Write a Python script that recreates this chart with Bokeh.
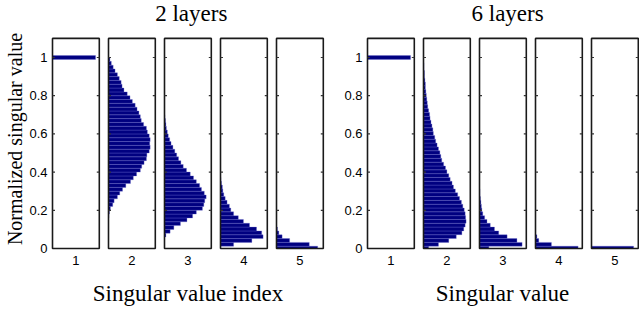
from bokeh.plotting import figure
from bokeh.layouts import row
from bokeh.models import FixedTicker, Range1d, ColumnDataSource
from bokeh.embed import file_html
from bokeh.resources import INLINE

# ---------------- data ----------------
panel_names = ["1", "2", "3", "4", "5"]
group_titles = ["2 layers", "6 layers"]
group_xlabels = ["Singular value index", "Singular value"]
y_label = "Normalized singular value"
y_tick_values = [0, 0.2, 0.4, 0.6, 0.8, 1.0]
y_tick_text = ["0", "0.2", "0.4", "0.6", "0.8", "1"]
bin_height = 0.02

# lower edge of the first histogram bin in each panel
two_layer_lo = [0.99, 0.16, 0.06, 0.012, -0.008]
# bar lengths (fraction of panel width), bottom bin first
two_layer_p1 = [0.92]
two_layer_p2 = [0.01, 0.02, 0.04, 0.09, 0.12, 0.19, 0.24, 0.30, 0.37, 0.47, 0.53, 0.60,
                0.68, 0.71, 0.76, 0.81, 0.82, 0.87, 0.89, 0.88, 0.89, 0.87, 0.83, 0.81,
                0.75, 0.70, 0.68, 0.65, 0.61, 0.57, 0.51, 0.46, 0.40, 0.33, 0.29, 0.27,
                0.23, 0.19, 0.14, 0.10, 0.06, 0.03]
two_layer_p3 = [0.03, 0.12, 0.20, 0.34, 0.48, 0.60, 0.68, 0.81, 0.84, 0.86, 0.89, 0.85,
                0.79, 0.75, 0.68, 0.62, 0.55, 0.47, 0.40, 0.35, 0.30, 0.26, 0.22, 0.18,
                0.14, 0.11, 0.08, 0.06, 0.04, 0.03, 0.02, 0.01]
two_layer_p4 = [0.28, 0.67, 0.91, 0.88, 0.77, 0.62, 0.49, 0.38, 0.28, 0.22, 0.19, 0.14,
                0.10, 0.07, 0.05, 0.04, 0.02, 0.01]
two_layer_p5 = [0.88, 0.70, 0.28, 0.12, 0.05, 0.02]

six_layer_lo = [0.99, -0.008, -0.008, -0.008, -0.008]
six_layer_p1 = [0.92]
six_layer_p2 = [0.11, 0.32, 0.54, 0.70, 0.82, 0.86, 0.89, 0.91, 0.90, 0.89, 0.87, 0.84,
                0.81, 0.77, 0.73, 0.68, 0.64, 0.61, 0.57, 0.54, 0.50, 0.47, 0.43, 0.39,
                0.37, 0.35, 0.32, 0.29, 0.26, 0.24, 0.21, 0.20, 0.18, 0.16, 0.14, 0.13,
                0.11, 0.09, 0.08, 0.07, 0.06, 0.05, 0.04, 0.04, 0.03, 0.02, 0.02, 0.01,
                0.01]
six_layer_p3 = [0.20, 0.91, 0.80, 0.59, 0.41, 0.32, 0.23, 0.16, 0.11, 0.07, 0.05, 0.04,
                0.03, 0.02, 0.01, 0.01]
six_layer_p4 = [0.91, 0.34, 0.07, 0.03]
six_layer_p5 = [0.90]

groups = [
    (two_layer_lo, [two_layer_p1, two_layer_p2, two_layer_p3, two_layer_p4, two_layer_p5]),
    (six_layer_lo, [six_layer_p1, six_layer_p2, six_layer_p3, six_layer_p4, six_layer_p5]),
]

# ---------------- layout constants ----------------
PANEL_PX = 46.8
PITCH = 56.0 / PANEL_PX          # panel pitch in panel-width units
Y_PX = 191.0                     # pixels per unit of normalized value
FRAME_H = 223                    # includes headroom above the panels
PAD_X = 2.0 / PANEL_PX
PAD_Y = 2.0 / Y_PX
BAR_FILL = "#000080"
BAR_EDGE = "#6a6ad2"
BORDER = "#1a1a1a"
SERIF = "Liberation Serif"
SANS = "Liberation Sans"


def make_group(gi, frame_w, border_left, border_right, title_offset, with_ylabel):
    lows, panels = groups[gi]
    p = figure(frame_width=frame_w, frame_height=FRAME_H,
               x_range=Range1d(-PAD_X, -PAD_X + frame_w / PANEL_PX),
               y_range=Range1d(-PAD_Y, -PAD_Y + FRAME_H / Y_PX),
               min_border_left=border_left, min_border_right=border_right,
               min_border_top=27, min_border_bottom=58,
               output_backend="svg", toolbar_location=None)
    p.outline_line_color = None
    p.grid.visible = False
    p.background_fill_color = "white"
    p.border_fill_color = "white"

    # title
    p.title.text = group_titles[gi]
    p.title.align = "left"
    p.title.offset = title_offset
    p.title.vertical_align = "top"
    p.title.standoff = 0
    p.title.text_font = SERIF
    p.title.text_font_size = "23px"
    p.title.text_font_style = "normal"
    p.title.text_color = "black"

    # histogram bars
    left, right, bottom, top = [], [], [], []
    for i, vals in enumerate(panels):
        x0 = i * PITCH
        for j, v in enumerate(vals):
            b = lows[i] + j * bin_height
            left.append(x0)
            right.append(x0 + v)
            bottom.append(max(b, 0.0))
            top.append(b + bin_height)
    src = ColumnDataSource(dict(left=left, right=right, bottom=bottom, top=top))
    p.quad(left="left", right="right", bottom="bottom", top="top", source=src,
           fill_color=BAR_FILL, line_color=BAR_EDGE, line_width=0.6, line_alpha=0.55)

    # panel boxes
    bx0 = [i * PITCH for i in range(5)]
    p.quad(left=bx0, right=[x + 1 for x in bx0], bottom=[0] * 5, top=[1.1] * 5,
           fill_color=None, line_color=BORDER, line_width=1.6)

    # inward tick marks on both sides of each panel
    tl = 2.5 / PANEL_PX
    xs0, xs1, ys = [], [], []
    for x in bx0:
        for t in y_tick_values[1:]:
            xs0 += [x, x + 1 - tl]
            xs1 += [x + tl, x + 1]
            ys += [t, t]
    p.segment(x0=xs0, y0=ys, x1=xs1, y1=ys, line_color="#333333", line_width=1.2)

    # x axis: panel index labels
    centers = [i * PITCH + 0.5 for i in range(5)]
    xa = p.xaxis[0]
    xa.ticker = FixedTicker(ticks=centers)
    xa.major_label_overrides = {c: n for c, n in zip(centers, panel_names)}
    xa.axis_line_color = None
    xa.major_tick_line_color = None
    xa.minor_tick_line_color = None
    xa.major_tick_out = 0
    xa.major_label_standoff = 5
    xa.major_label_text_font = SANS
    xa.major_label_text_font_size = "13px"
    xa.major_label_text_color = "black"
    xa.axis_label = group_xlabels[gi]
    xa.axis_label_text_font = SERIF
    xa.axis_label_text_font_style = "normal"
    xa.axis_label_text_font_size = "23px"
    xa.axis_label_text_color = "black"
    xa.axis_label_standoff = 13

    # y axis
    ya = p.yaxis[0]
    ya.ticker = FixedTicker(ticks=y_tick_values)
    ya.major_label_overrides = {v: t for v, t in zip(y_tick_values, y_tick_text)}
    ya.axis_line_color = None
    ya.major_tick_line_color = None
    ya.minor_tick_line_color = None
    ya.major_tick_out = 0
    ya.major_label_standoff = 3
    ya.major_label_text_font = SANS
    ya.major_label_text_font_size = "13px"
    ya.major_label_text_color = "black"
    if with_ylabel:
        ya.axis_label = y_label
        ya.axis_label_text_font = SERIF
        ya.axis_label_text_font_style = "normal"
        ya.axis_label_text_font_size = "20px"
        ya.axis_label_text_color = "black"
        ya.axis_label_standoff = 0
    return p


p1 = make_group(0, 275, 50, 5, 104.7, True)
p2 = make_group(1, 274, 35, 0, 106.0, False)

layout = row(p1, p2, spacing=0)
open("out.html", "w").write(file_html(layout, INLINE))
